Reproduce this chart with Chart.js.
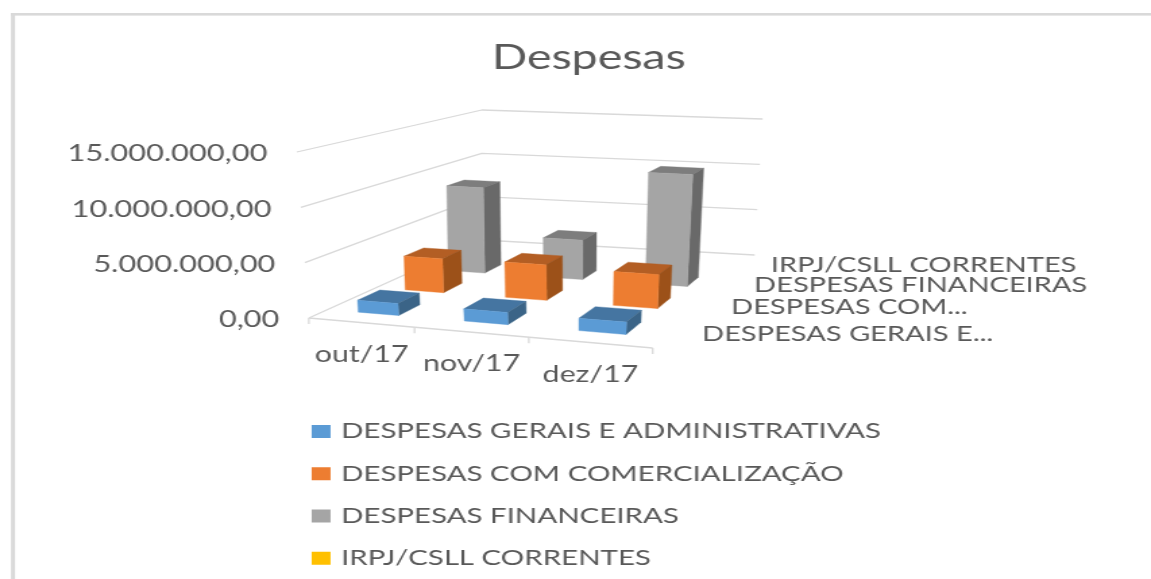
<!DOCTYPE html>
<html lang="pt-BR"><head><meta charset="utf-8">
<style>
html,body{margin:0;padding:0;background:#fff;overflow:hidden}
canvas{display:block;position:absolute;left:0;top:0;width:1151px!important;height:579px!important}
</style>
<script src="https://cdn.jsdelivr.net/npm/chart.js@4/dist/chart.umd.min.js"></script>
</head><body><canvas id="c"></canvas>
<script>
const categories = ['out/17','nov/17','dez/17'];
const seriesNames = ['DESPESAS GERAIS E ADMINISTRATIVAS','DESPESAS COM COMERCIALIZAÇÃO','DESPESAS FINANCEIRAS','IRPJ/CSLL CORRENTES'];
const depthLabels = ['DESPESAS GERAIS E...','DESPESAS COM...','DESPESAS FINANCEIRAS','IRPJ/CSLL CORRENTES'];
const gerais = [1100000,1100000,1100000];
const comercializacao = [3300000,3400000,3200000];
const financeiras = [8800000,4000000,11200000];
const irpj = [0,0,0];
const tickValues = [0,5000000,10000000,15000000];
const tickLabels = ['0,00','5.000.000,00','10.000.000,00','15.000.000,00'];

const SX = 1.35, W = Math.round(1151/SX), H = 579;
const canvas = document.getElementById('c');
canvas.width = W; canvas.height = H;

// perspective box, in page pixels
const FLOOR = [[309,318],[653,348],[755,255],[482,240]];
const TOP = [[297,152],[663,174],[763,119],[482,110]];
function homography(q){
  const [[x0,y0],[x1,y1],[x2,y2],[x3,y3]] = q;
  const dx1=x1-x2,dx2=x3-x2,sx=x0-x1+x2-x3,dy1=y1-y2,dy2=y3-y2,sy=y0-y1+y2-y3;
  const det=dx1*dy2-dx2*dy1, g=(sx*dy2-dx2*sy)/det, h=(dx1*sy-sx*dy1)/det;
  const a=x1-x0+g*x1,b=x3-x0+h*x3,d=y1-y0+g*y1,e=y3-y0+h*y3;
  return (u,v)=>{const k=g*u+h*v+1;return [(a*u+b*v+x0)/k,(d*u+e*v+y0)/k];};
}
const hF = homography(FLOOR), hT = homography(TOP);
function project(u,v,t){
  const a=hF(u,v), b=hT(u,v);
  return [(a[0]+(b[0]-a[0])*t)/SX, a[1]+(b[1]-a[1])*t];
}
const HALF_U = 0.065, HALF_V = 0.055;
const ROW_NUDGE_V = [0.015,0.008,0,0], ROW_NUDGE_U = [0,0,0.008,0];
const DEPTH_DX = [33,33,31,26];
const SHADES = [['#5B9BD5','#4575A1','#3B6487'],['#ED7D31','#B35E24','#9C5119'],['#A5A5A5','#7D7D7D','#696969'],['#FFC000','#C19200','#A67D00']];

function frac(scale,value){ return (scale.getPixelForValue(value)-scale.left)/scale.width; }
function heightFrac(scale,value){ return (scale.bottom-scale.getPixelForValue(value))/scale.height; }

class Bar3DController extends Chart.BarController {
  draw(){
    const ctx=this.chart.ctx, meta=this._cachedMeta, xs=meta.xScale, ys=meta.yScale;
    const ds=this.getDataset(), depth=this.chart.scales.depth;
    const shade=SHADES[this.index];
    const vc=frac(depth,this.index)+ROW_NUDGE_V[this.index];
    ds.data.forEach((val,i)=>{
      if(!val) return;
      const uc=frac(xs,i)+ROW_NUDGE_U[this.index], t=heightFrac(ys,val);
      const u0=uc-HALF_U,u1=uc+HALF_U,v0=vc-HALF_V,v1=vc+HALF_V;
      const poly=(pts,c)=>{ctx.beginPath();pts.forEach((p,k)=>k?ctx.lineTo(p[0],p[1]):ctx.moveTo(p[0],p[1]));ctx.closePath();ctx.fillStyle=c;ctx.fill();ctx.strokeStyle=c;ctx.lineWidth=.4;ctx.stroke();};
      poly([project(u0,v1,t),project(u1,v1,t),project(u1,v0,t),project(u0,v0,t)],shade[1]);
      poly([project(u1,v0,0),project(u1,v1,0),project(u1,v1,t),project(u1,v0,t)],shade[2]);
      poly([project(u0,v0,0),project(u1,v0,0),project(u1,v0,t),project(u0,v0,t)],shade[0]);
    });
  }
}
Bar3DController.id='bar3d';
Bar3DController.defaults=Chart.BarController.defaults;
Bar3DController.overrides=Chart.BarController.overrides;
Chart.register(Bar3DController);

const TEXT='#595959', GRID='#D9D9D9';
const box3d={
  id:'box3d',
  afterLayout(chart){
    const l=chart.legend; const h=l.height;
    l.left=(313.8-12)/SX-10; l.right=W; l.top=400; l.bottom=l.top+h;
    const t=chart.titleBlock, dx=589/SX-(t.left+t.right)/2;
    t.left+=dx; t.right+=dx; t.top=37;t.bottom=t.top+t.height;
  },
  beforeDatasetsDraw(chart){
    const ctx=chart.ctx, ys=chart.scales.y, xs=chart.scales.x, depth=chart.scales.depth;
    ctx.save();
    ctx.fillStyle=GRID;
    ctx.fillRect(11/SX,13,W,2.6);
    ctx.fillRect(11/SX,13,4/SX,H);
    ctx.strokeStyle=GRID; ctx.lineWidth=1.3; ctx.lineJoin='round';
    const line=(pts)=>{ctx.beginPath();pts.forEach((p,k)=>k?ctx.lineTo(p[0],p[1]):ctx.moveTo(p[0],p[1]));ctx.stroke();};
    ctx.fillStyle=TEXT; ctx.textBaseline='middle';
    ctx.font='22.8px Lato';
    tickValues.forEach((v,i)=>{
      const t=heightFrac(ys,v), a=project(0,0,t), b=project(0,1,t), c=project(1,1,t);
      line([a,b,c]);
      ctx.textAlign='right';
      ctx.fillText(tickLabels[i],a[0]-29.5/SX,a[1]+2);
    });
    line([project(0,0,0),project(1,0,0)]);
    for(let i=0;i<=categories.length;i++){
      const p=project(i/categories.length,0,0);
      line([p,[p[0],p[1]+6]]);
    }
    ctx.font='22.5px Lato';
    ctx.textAlign='center';
    categories.forEach((c,i)=>{
      const p=project(frac(xs,i),0,0);
      ctx.fillText(c,p[0]+1/SX,p[1]+32);
    });
    ctx.font='21.5px Lato';
    ctx.textAlign='left';
    depthLabels.forEach((c,i)=>{
      const p=project(1,frac(depth,i),0);
      ctx.fillText(c,p[0]+DEPTH_DX[i]/SX,p[1]+1);
    });
    ctx.restore();
  }
};

new Chart(canvas,{
  type:'bar3d',
  data:{labels:categories,datasets:[
    {label:seriesNames[0],data:gerais,backgroundColor:SHADES[0][0],borderColor:SHADES[0][0],borderWidth:6.2,clip:false},
    {label:seriesNames[1],data:comercializacao,backgroundColor:SHADES[1][0],borderColor:SHADES[1][0],borderWidth:6.2,clip:false},
    {label:seriesNames[2],data:financeiras,backgroundColor:SHADES[2][0],borderColor:SHADES[2][0],borderWidth:6.2,clip:false},
    {label:seriesNames[3],data:irpj,backgroundColor:SHADES[3][0],borderColor:SHADES[3][0],borderWidth:6.2,clip:false}
  ]},
  options:{
    responsive:false,animation:false,events:[],
    layout:{padding:0},
    scales:{
      x:{type:'category',display:false,offset:true},
      depth:{type:'category',axis:'x',labels:seriesNames,display:false,offset:true},
      y:{type:'linear',display:false,min:0,max:15000000}
    },
    plugins:{
      title:{display:true,text:'Despesas',color:TEXT,font:{family:'Lato',size:34.5,weight:'normal'},padding:0},
      legend:{display:true,position:'left',align:'start',labels:{color:TEXT,font:{family:'Lato',size:21.8},boxWidth:7.8,boxHeight:6.8,padding:20.5}},
      tooltip:{enabled:false}
    }
  },
  plugins:[box3d]
});
</script></body></html>
